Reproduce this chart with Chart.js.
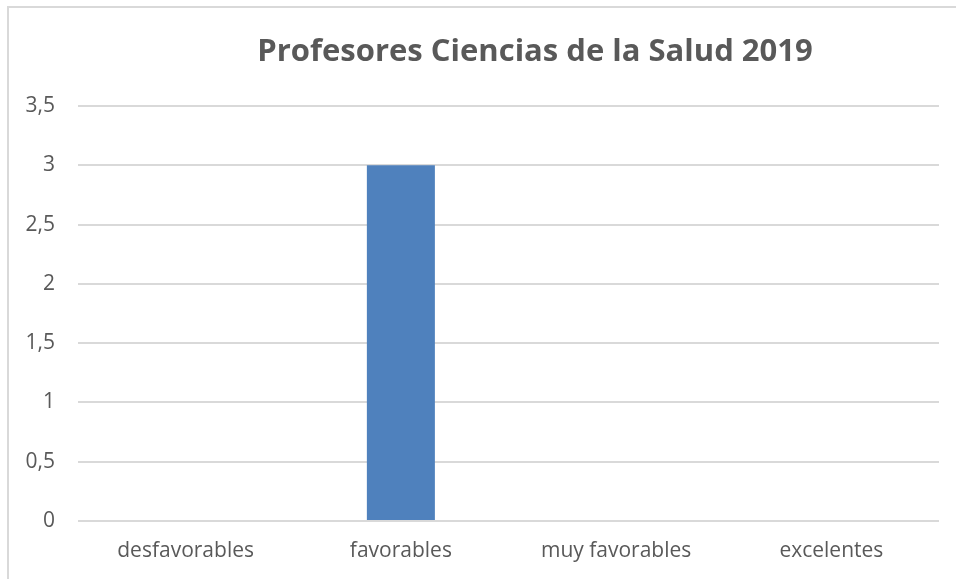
<!DOCTYPE html>
<html>
<head>
<meta charset="utf-8">
<script src="https://cdn.jsdelivr.net/npm/chart.js@4/dist/chart.umd.min.js"></script>
<style>
html,body{margin:0;padding:0;background:#fff;}
#wrap{position:relative;width:956px;height:579px;}
canvas{display:block;}
</style>
</head>
<body>
<div id="wrap"><canvas id="c" width="956" height="579"></canvas></div>
<script>
const chartTitle = 'Profesores Ciencias de la Salud 2019';
const categories = ['desfavorables', 'favorables', 'muy favorables', 'excelentes'];
const seriesName = 'Profesores';
const values = [0, 3, 0, 0];
const yTicks = [0, 0.5, 1, 1.5, 2, 2.5, 3, 3.5];

const FONT = "'Open Sans', 'Noto Sans', sans-serif";
const TEXT = '#595959';
const GRID = '#d9d9d9';

const decoPlugin = {
  id: 'deco',
  beforeDraw(chart) {
    const ctx = chart.ctx;
    ctx.save();
    ctx.fillStyle = '#fff';
    ctx.fillRect(0, 0, chart.width, chart.height);
    ctx.strokeStyle = GRID;
    ctx.lineWidth = 2;
    ctx.beginPath();
    ctx.moveTo(8, chart.height);
    ctx.lineTo(8, 7);
    ctx.lineTo(chart.width, 7);
    ctx.stroke();
    ctx.restore();
  },
  afterDraw(chart) {
    const ctx = chart.ctx;
    ctx.save();
    ctx.fillStyle = TEXT;
    ctx.font = "bold 31px " + FONT;
    ctx.textAlign = 'center';
    ctx.textBaseline = 'alphabetic';
    ctx.fillText(chartTitle, 535, 61);
    ctx.restore();
  }
};

new Chart(document.getElementById('c'), {
  type: 'bar',
  data: {
    labels: categories,
    datasets: [{
      label: seriesName,
      data: values,
      backgroundColor: '#4F81BD',
      borderWidth: 0,
      categoryPercentage: 1,
      barPercentage: 0.316
    }]
  },
  options: {
    responsive: false,
    animation: false,
    layout: { padding: { left: 0, right: 17, top: 106, bottom: 0 } },
    plugins: {
      legend: { display: false },
      title: { display: false },
      tooltip: { enabled: false }
    },
    scales: {
      x: {
        grid: { display: false, drawTicks: false },
        border: { display: false },
        ticks: { color: TEXT, font: { family: FONT, size: 21 }, padding: 17, maxRotation: 0 },
        afterFit(s) { s.height = 58; }
      },
      y: {
        min: 0, max: 3.5,
        afterBuildTicks(s) { s.ticks = yTicks.map(v => ({ value: v })); },
        grid: { color: GRID, lineWidth: 2, drawTicks: false },
        border: { display: false },
        ticks: {
          color: TEXT, font: { family: FONT, size: 21 }, padding: 23,
          callback: v => String(v).replace('.', ',')
        },
        afterFit(s) { s.width = 78; }
      }
    }
  },
  plugins: [decoPlugin]
});
</script>
</body>
</html>
